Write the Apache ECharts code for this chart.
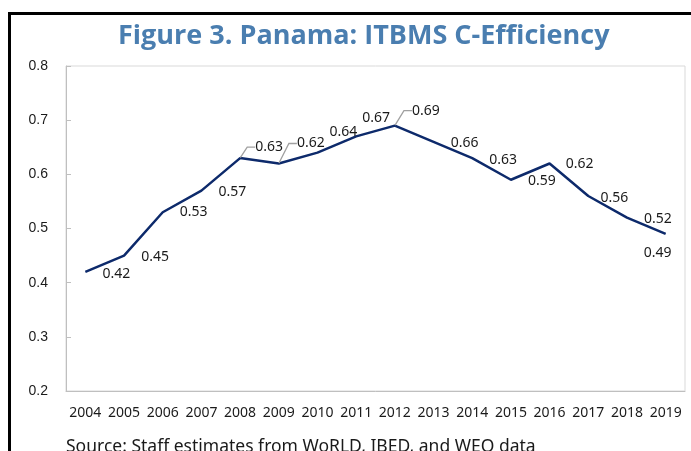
<!DOCTYPE html>
<html>
<head>
<meta charset="utf-8">
<script src="https://cdn.jsdelivr.net/npm/echarts@6/dist/echarts.min.js"></script>
<style>
  html, body { margin: 0; padding: 0; background: #fff; }
  #chart { width: 691px; height: 451px; }
</style>
</head>
<body>
<div id="chart"></div>
<script>
// 年份与C-效率数据
var years = ['2004', '2005', '2006', '2007', '2008', '2009', '2010', '2011',
             '2012', '2013', '2014', '2015', '2016', '2017', '2018', '2019'];
var efficiency = [0.42, 0.45, 0.53, 0.57, 0.63, 0.62, 0.64, 0.67,
                  0.69, 0.66, 0.63, 0.59, 0.62, 0.56, 0.52, 0.49];
var yTicks = [0.2, 0.3, 0.4, 0.5, 0.6, 0.7, 0.8];
// 标签偏移（相对数据点中心）
var labelShift = [[31, 2], [31, 1], [31, 0], [31, 1], [29, -11], [32, -20], [26, -21], [20, -18],
                  [31, -15], [31, 1], [31, 2], [31, 1], [30, 1], [26, 2], [31, 1], [-8, 19]];
var withLeader = [4, 5, 8];

var chart = echarts.init(document.getElementById('chart'));

var seriesData = efficiency.map(function (v, i) {
  return {
    value: v,
    labelLine: { show: withLeader.indexOf(i) >= 0 }
  };
});

var option = {
  animation: false,
  title: {
    text: 'Figure 3. Panama: ITBMS C-Efficiency',
    left: 113,
    top: 18,
    textStyle: {
      fontFamily: 'Open Sans',
      fontWeight: 'bold',
      fontSize: 27,
      color: '#4a7eb0'
    }
  },
  grid: {
    left: 66,
    right: 6,
    top: 66,
    bottom: 60,
    show: true,
    borderColor: '#d9d9d9',
    borderWidth: 1
  },
  xAxis: {
    type: 'category',
    data: years,
    axisLine: { lineStyle: { color: '#bfbfbf' } },
    axisTick: { inside: true, length: 5, lineStyle: { color: '#bfbfbf' } },
    axisLabel: {
      interval: 0,
      margin: 15,
      fontFamily: 'Noto Sans',
      fontSize: 14,
      color: '#1a1a1a'
    }
  },
  yAxis: {
    type: 'value',
    min: yTicks[0],
    max: yTicks[yTicks.length - 1],
    interval: 0.1,
    splitLine: { show: false },
    axisLine: { show: true, lineStyle: { color: '#bfbfbf' } },
    axisTick: { show: true, inside: true, length: 5, lineStyle: { color: '#bfbfbf' } },
    axisLabel: {
      margin: 18,
      fontFamily: 'Liberation Sans',
      fontSize: 14,
      color: '#1a1a1a',
      formatter: function (v) { return v.toFixed(1); }
    }
  },
  graphic: [
    {
      type: 'polyline',
      shape: { points: [[9.5, 460], [9.5, 13.5], [700, 13.5]] },
      style: { stroke: '#000', lineWidth: 3, fill: null }
    },
    {
      type: 'text',
      left: 66,
      top: 438,
      style: {
        text: 'Source: Staff estimates from WoRLD, IBED, and WEO data',
        fontFamily: 'Noto Sans',
        fontSize: 17.5,
        fill: '#1a1a1a'
      }
    }
  ],
  series: [
    {
      type: 'line',
      data: seriesData,
      symbol: 'circle',
      symbolSize: 1,
      showSymbol: true,
      itemStyle: { color: 'rgba(0,0,0,0)' },
      lineStyle: { color: '#0d2a6b', width: 2.5 },
      label: {
        show: true,
        position: 'inside',
        fontFamily: 'Noto Sans',
        fontSize: 14,
        color: '#1a1a1a'
      },
      labelLine: {
        lineStyle: { color: '#a0a0a0', width: 1.3 },
        length2: 8
      },
      labelLayout: function (params) {
        var s = labelShift[params.dataIndex];
        return { dx: s[0], dy: s[1] };
      }
    }
  ]
};

chart.setOption(option);
</script>
</body>
</html>
